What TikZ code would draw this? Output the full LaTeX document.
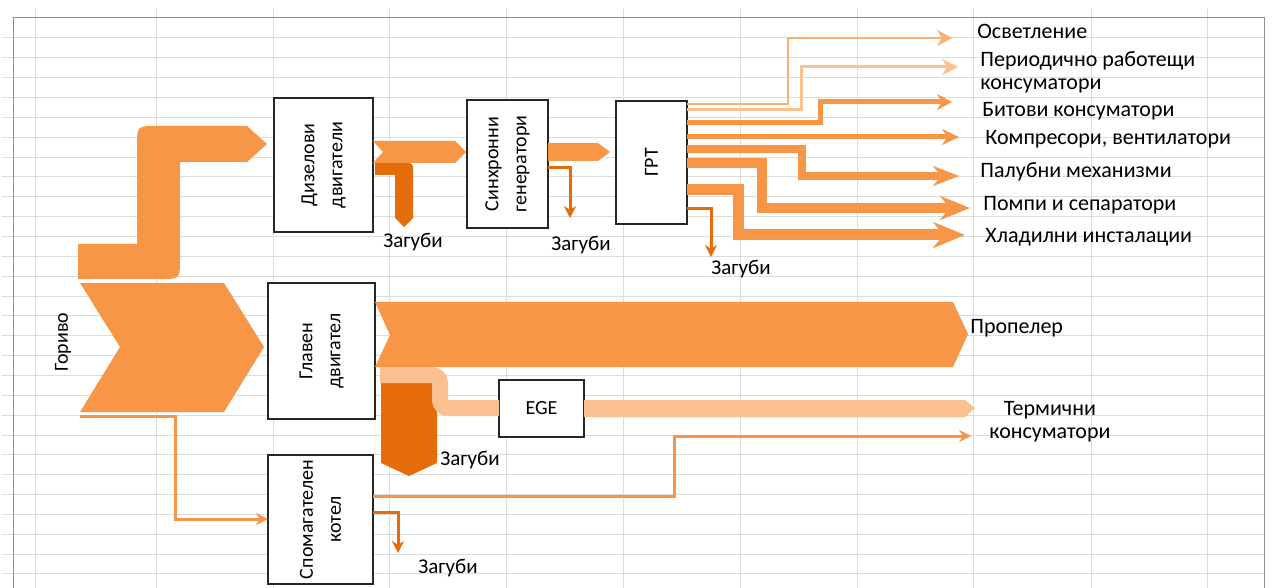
\documentclass[tikz,border=0pt]{standalone}
\usepackage{fontspec}
\setmainfont{Carlito}
\usepackage{xcolor}
\usepackage{tikz}
\usetikzlibrary{arrows.meta, positioning}

\definecolor{portokal}{HTML}{F79646}
\definecolor{tamen}{HTML}{E46C0A}
\definecolor{svetal}{HTML}{FAC090}
\definecolor{mreza}{HTML}{DCDCDC}
\definecolor{ramka}{HTML}{8E8E8E}

\tikzset{
    blok/.style={draw=black!85, line width=0.75pt, fill=white, inner sep=0pt, outer sep=0pt},
    nadpis/.style={inner sep=0pt, align=center, font=\fontsize{10}{14}\selectfont},
    etiket/.style={inner sep=0pt, anchor=west, align=left, font=\fontsize{11}{11.5}\selectfont},
    zagubi/.style={inner sep=0pt, font=\fontsize{10.5}{12}\selectfont},
    tanka/.style={line width=1.5pt, -{Stealth[length=6pt, width=6pt]}},
}

\begin{document}
\begin{tikzpicture}[x=0.5pt, y=-0.5pt]
    \useasboundingbox (0,0) rectangle (1274,588);
    % Мрежа на листа
    \foreach \gx in {35,156,273,389,506,623,740,857,973,1091,1207}
        \draw[mreza, line width=0.5pt] (\gx,9) -- (\gx,588);
    \foreach \k in {0,...,27}
        \draw[mreza, line width=0.5pt] (2,{38+19.85*\k}) -- (1264,{38+19.85*\k});
    \draw[ramka, line width=0.5pt] (13,588) -- (13,18) -- (1264,18) -- (1264,588);

    % Блокове
    \node[blok, minimum width=49.5pt, minimum height=67pt] (dvg) at (323.5,165) {};
    \node[nadpis, rotate=90] (dvg-t) at (dvg) {Дизелови\\двигатели};
    \node[blok, minimum width=40.5pt, minimum height=64pt] (sg) at (507.5,164) {};
    \node[nadpis, rotate=90] (sg-t) at (sg) {Синхронни\\генератори};
    \node[blok, minimum width=35.5pt, minimum height=61.5pt] (grt) at (651.5,162.5) {};
    \node[nadpis, rotate=90] (grt-t) at (grt) {ГРТ};
    \node[blok, minimum width=53.5pt, minimum height=68pt] (gd) at (321.5,351) {};
    \node[nadpis, rotate=90] (gd-t) at (gd) {Главен\\двигател};
    \node[blok, minimum width=42.5pt, minimum height=28.5pt] (ege) at (541.5,408.5) {};
    \node[nadpis] (ege-t) at (ege) {EGE};
    \node[blok, minimum width=52.5pt, minimum height=64.5pt] (sk) at (320.5,519.5) {};
    \node[nadpis, rotate=90] (sk-t) at (sk) {Спомагателен\\котел};

    % Надписи
    \node[nadpis, rotate=90] (gorivo) at (63,342) {Гориво};
    \node[etiket] (osv) at (977,31) {Осветление};
    \node[etiket] (period) at (980,72) {Периодично работещи\\консуматори};
    \node[etiket] (bit) at (982,111) {Битови консуматори};
    \node[etiket] (komp) at (985,139) {Компресори, вентилатори};
    \node[etiket] (pal) at (980,172) {Палубни механизми};
    \node[etiket] (pomp) at (983,205) {Помпи и сепаратори};
    \node[etiket] (hlad) at (985,237) {Хладилни инсталации};
    \node[etiket] (prop) at (970,328) {Пропелер};
    \node[etiket, align=center] (term) at (989,422) {Термични\\консуматори};
    \node[zagubi] (z-dvg) at (413,242) {Загуби};
    \node[zagubi] (z-sg) at (581,245) {Загуби};
    \node[zagubi] (z-grt) at (741,269) {Загуби};
    \node[zagubi] (z-gd) at (470,460) {Загуби};
    \node[zagubi] (z-sk) at (448,568) {Загуби};

    % Крайни точки на стрелките
    \coordinate (k-osv) at (952,38);
    \coordinate (k-period) at (958,67);
    \coordinate (k-bit) at (952,102);
    \coordinate (k-komp) at (959,137);
    \coordinate (k-pal) at (959,176);
    \coordinate (k-pomp) at (970,208);
    \coordinate (k-hlad) at (965,235);
    \coordinate (k-term) at (971,436);

    % Гориво
    \fill[portokal] (80,283) -- (224,283) -- (264,347) -- (224,412) -- (80,412) -- (120,347) -- cycle;
    \fill[portokal] (78,244) -- (137,244) -- (137,146) .. controls (137,126) .. (157,126)
        -- (247,126) -- (267,144) -- (247,162) -- (180,162) -- (180,259)
        .. controls (180,279) .. (160,279) -- (78,279) -- cycle;
    \draw[portokal, line width=1.5pt, -{Stealth[length=6pt, width=6pt]}]
        (80,416) -| (175,519) -- (sk.west |- 0,519);

    % Дизелови двигатели -> генератори -> ГРТ
    \fill[portokal] (373,141) -- (455,141) -- (466,152) -- (455,163) -- (373,163) -- (383,152) -- cycle;
    \fill[tamen] (375,163) -- (405,163) .. controls (413,163) .. (413,171) -- (413,218)
        -- (404,227) -- (395,218) -- (395,175) -- (375,175) -- cycle;
    \fill[portokal] (548,143) -- (598,143) -- (610,152) -- (598,161) -- (548,161) -- cycle;
    \draw[tamen, tanka] (sg.east |- 0,168) -| (570,218);

    % Консуматори от ГРТ
    \draw[portokal!75, line width=1pt, -{Stealth[length=7.5pt, width=8pt]}]
        (grt.east |- 0,104) -| (788,38) -- (k-osv);
    \draw[svetal, line width=1.5pt, -{Stealth[length=8pt, width=8pt]}]
        (grt.east |- 0,109.5) -| (801,67) -- (k-period);
    \draw[portokal, line width=2.5pt, -{Stealth[length=7.5pt, width=8pt]}]
        (grt.east |- 0,123) -| (820,102) -- (k-bit);
    \draw[portokal, line width=2.5pt, -{Stealth[length=8.5pt, width=8pt]}]
        (grt.east |- 0,137) -- (k-komp);
    \draw[portokal, line width=4pt, -{Stealth[length=13pt, width=10pt]}]
        (grt.east |- 0,149) -| (802,176) -- (k-pal);
    \draw[portokal, line width=5pt, -{Stealth[length=15pt, width=12pt]}]
        (grt.east |- 0,163) -| (762,208) -- (k-pomp);
    \draw[portokal, line width=5.5pt, -{Stealth[length=16pt, width=13pt]}]
        (grt.east |- 0,189.5) -| (738,235) -- (k-hlad);
    \draw[tamen, tanka] (grt.east |- 0,209) -| (711,257);

    % Главен двигател
    \fill[portokal] (375,302) -- (953,302) -- (968,334) -- (953,367) -- (375,367) -- (390,335) -- cycle;
    \fill[tamen] (381,372) -- (437,372) -- (437,463) -- (409,476) -- (381,463) -- cycle;
    \draw[svetal, line width=8pt, rounded corners=4pt] (380,375) -- (440,375) -- (440,408) -- (ege.west |- 0,408);
    \fill[svetal] (584,400) -- (965,400) -- (975,408) -- (965,417) -- (584,417) -- cycle;

    % Спомагателен котел
    \draw[portokal, line width=1.5pt, -{Stealth[length=6pt, width=6pt]}]
        (sk.east |- 0,496) -| (674,436) -- (k-term);
    \draw[tamen, tanka] (sk.east |- 0,512) -| (398,553);
\end{tikzpicture}
\end{document}
